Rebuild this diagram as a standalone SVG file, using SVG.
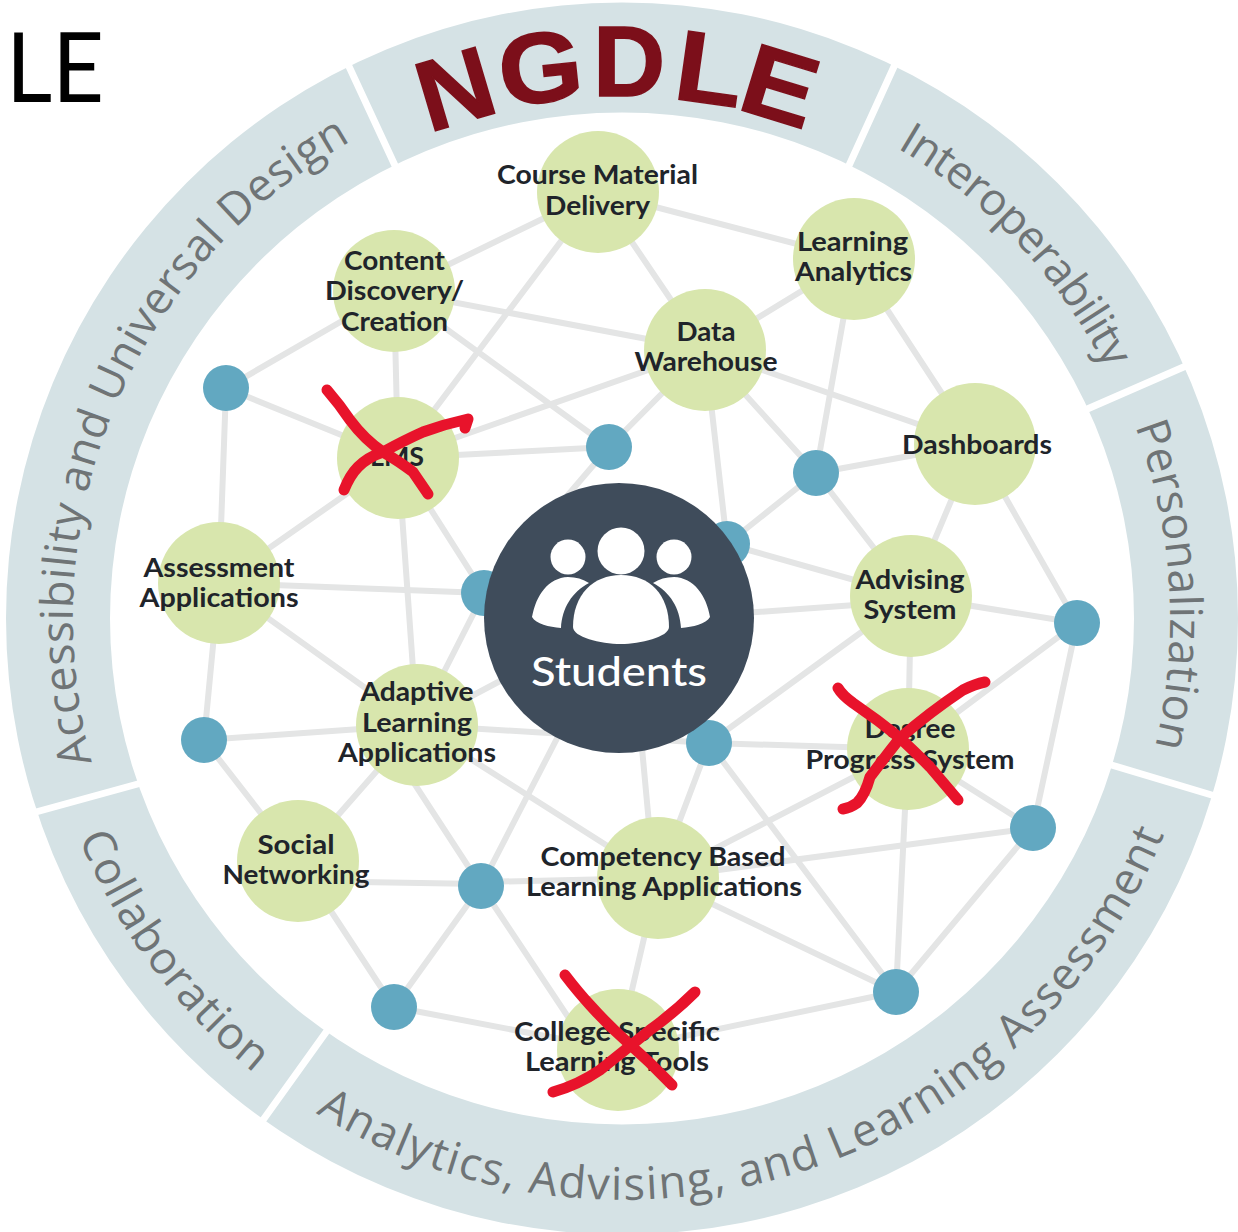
<svg xmlns="http://www.w3.org/2000/svg" width="1238" height="1232" viewBox="0 0 1238 1232">
<style>
.edge{stroke:#e4e5e5;stroke-width:6;fill:none}
.g{fill:#d8e6ad}
.b{fill:#62a8c1}
.t{font-family:"Lato","Open Sans",sans-serif;font-weight:700;font-size:26px;fill:#20242a;text-anchor:middle}
.arc{font-family:"Open Sans","Liberation Sans",sans-serif;font-size:45px;fill:#6f7476}
.gap{stroke:#fff;stroke-width:7;fill:none}
.ng{font-family:"Liberation Sans",Arial,sans-serif;font-weight:700;font-size:100px;fill:#7c0f1a;stroke:#7c0f1a;stroke-width:1.5;text-anchor:middle}
.x{stroke:#e8132b;stroke-width:11;fill:none;stroke-linecap:round;stroke-linejoin:round}
</style>
<defs>
<path id="pa" d="M92 762A548 548 0 0 1 434 103"/>
<path id="pi" d="M897 148A545 545 0 0 1 1148 477"/>
<path id="pp" d="M1135 426A548 548 0 0 1 1119 850"/>
<path id="pn" d="M316 1113A584 584 0 0 0 1186 769"/>
<path id="pc" d="M79 838A585 585 0 0 0 330 1125"/>
</defs>
<rect width="1238" height="1232" fill="#fff"/>
<text x="6" y="102" font-family="Lato,sans-serif" font-weight="400" font-size="97" fill="#000" textLength="98" lengthAdjust="spacingAndGlyphs">LE</text>
<g id="ring">
<path fill="#d5e2e5" fill-rule="evenodd" d="M6 618.5a616 616 0 1 0 1232 0a616 616 0 1 0 -1232 0ZM110 618.5a512 506 0 1 1 1024 0a512 506 0 1 1 -1024 0Z"/>
<path class="gap" d="M346 60L398 172M897 60L846 172M1195 362L1085 410M1225 799L1108 764M329 1028L258 1127M145 782L25 815"/>
<text class="arc"><textPath href="#pa" textLength="724">Accessibility and Universal Design</textPath></text>
<text class="arc"><textPath href="#pi" textLength="309">Interoperability</textPath></text>
<text class="arc"><textPath href="#pp" textLength="326">Personalization</textPath></text>
<text class="arc"><textPath href="#pn" textLength="1016">Analytics, Advising, and Learning Assessment</textPath></text>
<text class="arc"><textPath href="#pc" textLength="296">Collaboration</textPath></text>
<text class="ng" transform="translate(465 122) rotate(-16.5) scale(1.05 1)">N</text>
<text class="ng" transform="translate(544 102) rotate(-6) scale(1.08 1)">G</text>
<text class="ng" transform="translate(629 96)">D</text>
<text class="ng" transform="translate(705 103) rotate(8) scale(1.1 1)">L</text>
<text class="ng" transform="translate(770 119) rotate(17) scale(1.1 1)">E</text>
</g>
<g id="connectors" class="edge">
<path d="M598 192L394 291M598 192L854 259M598 192L705 350M598 192L398 458"/>
<path d="M394 291L705 350M394 291L398 458M394 291L226 388M394 291L609 447"/>
<path d="M854 259L705 350M854 259L816 473M854 259L975 444"/>
<path d="M705 350L398 458M705 350L609 447M705 350L816 473M705 350L975 444M705 350L727 544"/>
<path d="M975 444L816 473M975 444L911 596M975 444L1077 623"/>
<path d="M816 473L727 544M816 473L911 596M727 544L911 596"/>
<path d="M398 458L226 388M398 458L609 447M398 458L219 583M398 458L484 593M398 458L417 725"/>
<path d="M226 388L219 583M219 583L484 593M219 583L204 740M219 583L417 725"/>
<path d="M911 601L619 622M911 596L1077 623M911 596L908 749M911 596L709 743"/>
<path d="M908 749L709 743M908 749L1077 623M908 749L1033 828M908 749L896 992M1077 623L1033 828"/>
<path d="M709 743L658 878M709 743L896 992"/>
<path d="M417 725L619 618M417 725L484 593M417 725L204 740M417 725L298 861M481 886L384 737M417 725L658 878M417 725L709 743"/>
<path d="M654 878L630 618M658 878L908 749M658 878L1033 828M658 878L896 992M658 878L618 1050M658 878L481 882"/>
<path d="M481 884L298 881M481 886L619 618M481 886L394 1007M481 886L590 1050"/>
<path d="M298 861L204 740M298 861L394 1007M394 1007L618 1050M618 1050L896 992M896 992L1033 828M609 447L484 593"/>
</g>
<g id="n-course"><circle class="g" cx="598" cy="192" r="61"/><text class="t" x="597.5" y="184" textLength="201" lengthAdjust="spacingAndGlyphs">Course Material</text><text class="t" x="597.5" y="215" textLength="105" lengthAdjust="spacingAndGlyphs">Delivery</text></g>
<g id="n-analytics"><circle class="g" cx="854" cy="259" r="61"/><text class="t" x="852.5" y="251" textLength="111" lengthAdjust="spacingAndGlyphs">Learning</text><text class="t" x="853.5" y="281" textLength="117" lengthAdjust="spacingAndGlyphs">Analytics</text></g>
<g id="n-content"><circle class="g" cx="394" cy="291" r="61"/><text class="t" x="394.5" y="270" textLength="101" lengthAdjust="spacingAndGlyphs">Content</text><text class="t" x="394.5" y="300" textLength="139" lengthAdjust="spacingAndGlyphs">Discovery/</text><text class="t" x="394.5" y="331" textLength="107" lengthAdjust="spacingAndGlyphs">Creation</text></g>
<g id="n-warehouse"><circle class="g" cx="705" cy="350" r="61"/><text class="t" x="706" y="341" textLength="59" lengthAdjust="spacingAndGlyphs">Data</text><text class="t" x="706" y="371" textLength="143" lengthAdjust="spacingAndGlyphs">Warehouse</text></g>
<g id="n-dashboards"><circle class="g" cx="975" cy="444" r="61"/><text class="t" x="977" y="454" textLength="150" lengthAdjust="spacingAndGlyphs">Dashboards</text></g>
<g id="n-lms"><circle class="g" cx="398" cy="458" r="61"/><text class="t" x="397" y="466" textLength="54" lengthAdjust="spacingAndGlyphs">LMS</text></g>
<g id="n-assessment"><circle class="g" cx="219" cy="583" r="61"/><text class="t" x="219" y="577" textLength="151" lengthAdjust="spacingAndGlyphs">Assessment</text><text class="t" x="219" y="607" textLength="159" lengthAdjust="spacingAndGlyphs">Applications</text></g>
<g id="n-advising"><circle class="g" cx="911" cy="596" r="61"/><text class="t" x="910" y="589" textLength="109" lengthAdjust="spacingAndGlyphs">Advising</text><text class="t" x="910" y="619" textLength="93" lengthAdjust="spacingAndGlyphs">System</text></g>
<g id="n-adaptive"><circle class="g" cx="417" cy="725" r="61"/><text class="t" x="417" y="701" textLength="113" lengthAdjust="spacingAndGlyphs">Adaptive</text><text class="t" x="417" y="732" textLength="110" lengthAdjust="spacingAndGlyphs">Learning</text><text class="t" x="417" y="762" textLength="158" lengthAdjust="spacingAndGlyphs">Applications</text></g>
<g id="n-degree"><circle class="g" cx="908" cy="749" r="61"/><text class="t" x="910" y="738" textLength="91" lengthAdjust="spacingAndGlyphs">Degree</text><text class="t" x="910" y="769" textLength="209" lengthAdjust="spacingAndGlyphs">Progress System</text></g>
<g id="n-social"><circle class="g" cx="298" cy="861" r="61"/><text class="t" x="296" y="854" textLength="77" lengthAdjust="spacingAndGlyphs">Social</text><text class="t" x="296" y="884" textLength="147" lengthAdjust="spacingAndGlyphs">Networking</text></g>
<g id="n-competency"><circle class="g" cx="658" cy="878" r="61"/><text class="t" x="663" y="866" textLength="245" lengthAdjust="spacingAndGlyphs">Competency Based</text><text class="t" x="664" y="896" textLength="276" lengthAdjust="spacingAndGlyphs">Learning Applications</text></g>
<g id="n-college"><circle class="g" cx="618" cy="1050" r="61"/><text class="t" x="617" y="1041" textLength="206" lengthAdjust="spacingAndGlyphs">College Specific</text><text class="t" x="617" y="1071" textLength="184" lengthAdjust="spacingAndGlyphs">Learning Tools</text></g>
<g id="hubs">
<circle class="b" cx="226" cy="388" r="23"/><circle class="b" cx="609" cy="447" r="23"/><circle class="b" cx="816" cy="473" r="23"/><circle class="b" cx="727" cy="544" r="23"/><circle class="b" cx="484" cy="593" r="23"/><circle class="b" cx="1077" cy="623" r="23"/><circle class="b" cx="204" cy="740" r="23"/><circle class="b" cx="709" cy="743" r="23"/><circle class="b" cx="1033" cy="828" r="23"/><circle class="b" cx="481" cy="886" r="23"/><circle class="b" cx="394" cy="1007" r="23"/><circle class="b" cx="896" cy="992" r="23"/>
</g>
<g id="n-students">
<circle cx="619" cy="618" r="135" fill="#3f4c5b"/>
<g fill="#fff">
<circle cx="568" cy="557" r="17.5"/><circle cx="621" cy="551" r="23.5"/><circle cx="674" cy="557" r="17.5"/>
<path d="M573 627C573 595 593 575 621 575C650 575 669 595 669 627C669 637 640 644 621 644C600 644 573 637 573 627Z"/>
<path d="M532 617C536 595 548 578 568 577C576 577 583 579 589 583C572 592 562 608 561 628C549 627 536 624 532 617Z"/>
<path d="M710 617C706 595 694 578 674 577C666 577 659 579 653 583C670 592 680 608 681 628C693 627 706 624 710 617Z"/>
</g>
<text x="619" y="686" font-family="Lato,sans-serif" font-weight="500" font-size="41" fill="#fff" text-anchor="middle" textLength="176" lengthAdjust="spacingAndGlyphs">Students</text>
</g>
<g id="marks" class="x">
<path d="M327 390Q340 405 350 420Q365 440 383 452Q400 462 413 472L428 494"/>
<path d="M344 490Q350 475 358 467Q368 457 383 452Q405 440 423 432Q445 424 468 419L465 428"/>
<path d="M838 688Q842 695 853 703Q878 720 900 738Q915 752 930 767L958 800"/>
<path d="M985 682Q975 684 963 690Q930 712 900 738Q885 757 870 777Q865 795 857 803Q850 808 843 809"/>
<path d="M565 975Q578 992 590 1005Q608 1025 625 1040Q650 1062 672 1085"/>
<path d="M695 992Q675 1012 650 1030Q625 1050 600 1070Q578 1085 553 1092"/>
</g>
</svg>
